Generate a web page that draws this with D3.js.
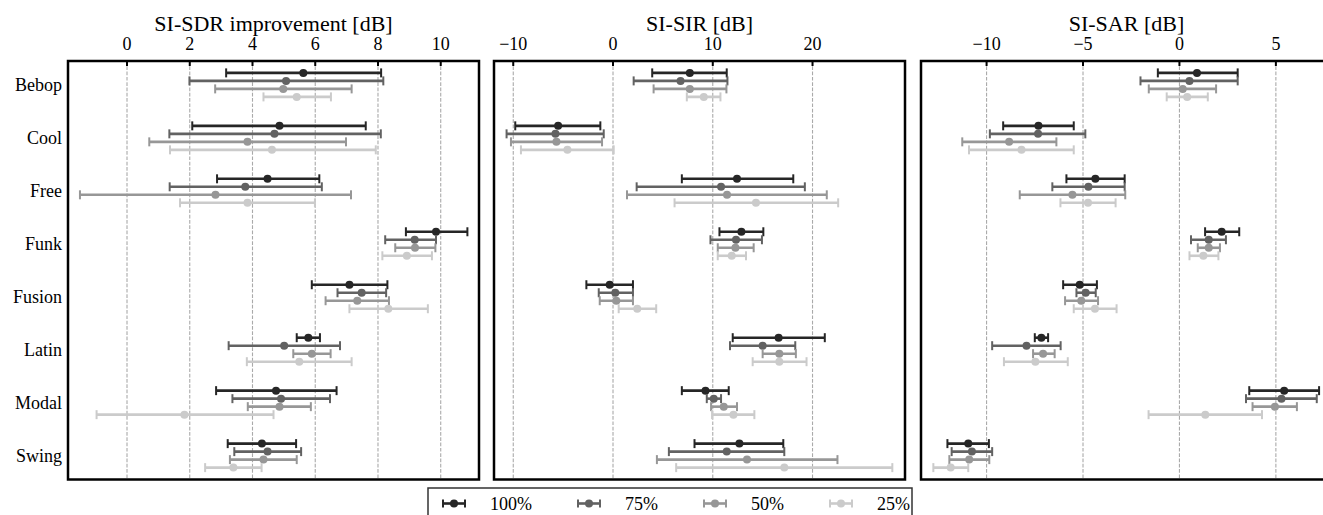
<!DOCTYPE html>
<html>
<head>
<meta charset="utf-8">
<script src="https://cdn.jsdelivr.net/npm/d3@7"></script>
<style>
  body { margin: 0; background: #fff; }
  svg text { font-family: "Liberation Serif", "DejaVu Serif", "Times New Roman", serif; }
  .grid line { stroke: #aaa; stroke-width: 1.1; stroke-dasharray: 3.7,1.6; }
  .frame { fill: none; stroke: #000; stroke-width: 2.5; }
  .tick-mark { stroke: #000; stroke-width: 2; }
</style>
</head>
<body>
<div class="chart"></div>
<script>
var categories = ["Bebop", "Cool", "Free", "Funk", "Fusion", "Latin", "Modal", "Swing"];
var seriesLabels = ["100%", "75%", "50%", "25%"];

// [mean, low, high] per category
var sdr100 = [[5.62, 3.16, 8.10], [4.86, 2.08, 7.61], [4.48, 2.87, 6.13], [9.85, 8.89, 10.85], [7.09, 5.89, 8.30], [5.78, 5.41, 6.15], [4.75, 2.84, 6.68], [4.30, 3.21, 5.39]];
var sdr75  = [[5.07, 1.99, 8.17], [4.70, 1.35, 8.09], [3.77, 1.36, 6.21], [9.17, 8.23, 9.85], [7.48, 6.71, 8.26], [5.01, 3.24, 6.79], [4.91, 3.36, 6.47], [4.48, 3.42, 5.55]];
var sdr50  = [[4.98, 2.81, 7.16], [3.84, 0.71, 6.98], [2.82, -1.50, 7.14], [9.18, 8.55, 9.83], [7.34, 6.33, 8.35], [5.89, 5.30, 6.49], [4.86, 3.85, 5.86], [4.35, 3.28, 5.41]];
var sdr25  = [[5.41, 4.35, 6.50], [4.62, 1.37, 7.93], [3.84, 1.69, 5.99], [8.92, 8.14, 9.72], [8.33, 7.09, 9.59], [5.49, 3.82, 7.16], [1.83, -0.97, 4.67], [3.39, 2.49, 4.29]];

var sir100 = [[7.7, 3.93, 11.4], [-5.5, -9.8, -1.27], [12.43, 6.9, 18.07], [12.87, 10.67, 15.07], [-0.33, -2.67, 2.0], [16.6, 12.0, 21.23], [9.27, 6.9, 11.6], [12.67, 8.17, 17.07]];
var sir75  = [[6.77, 2.07, 11.47], [-5.77, -10.67, -0.93], [10.83, 2.37, 19.23], [12.33, 9.77, 14.93], [0.23, -1.43, 2.0], [15.0, 11.73, 18.27], [10.1, 9.4, 10.83], [11.4, 5.6, 17.17]];
var sir50  = [[7.7, 4.07, 11.37], [-5.67, -10.23, -1.1], [11.43, 1.4, 21.43], [12.27, 10.5, 14.1], [0.33, -1.33, 2.0], [16.67, 15.0, 18.33], [11.1, 9.83, 12.43], [13.43, 4.4, 22.5]];
var sir25  = [[9.1, 7.4, 10.77], [-4.57, -9.23, 0.07], [14.33, 6.17, 22.57], [11.9, 10.5, 13.33], [2.43, 0.57, 4.33], [16.67, 14.0, 19.4], [12.07, 9.93, 14.17], [17.17, 6.33, 28.0]];

var sar100 = [[0.91, -1.12, 3.02], [-7.31, -9.14, -5.48], [-4.36, -5.86, -2.84], [2.19, 1.33, 3.10], [-5.17, -6.03, -4.28], [-7.16, -7.50, -6.81], [5.43, 3.62, 7.24], [-10.95, -12.03, -9.88]];
var sar75  = [[0.52, -2.02, 3.02], [-7.33, -9.83, -4.88], [-4.72, -6.59, -2.84], [1.52, 0.60, 2.41], [-4.86, -5.34, -4.34], [-7.93, -9.71, -6.16], [5.29, 3.45, 7.12], [-10.76, -11.81, -9.71]];
var sar50  = [[0.17, -1.59, 1.90], [-8.83, -11.26, -6.38], [-5.55, -8.28, -2.81], [1.52, 0.95, 2.10], [-5.09, -5.93, -4.22], [-7.07, -7.59, -6.47], [4.95, 3.79, 6.09], [-10.90, -11.93, -9.86]];
var sar25  = [[0.40, -0.66, 1.47], [-8.19, -10.91, -5.48], [-4.74, -6.17, -3.31], [1.24, 0.52, 2.02], [-4.38, -5.48, -3.26], [-7.47, -9.10, -5.79], [1.34, -1.60, 4.28], [-11.86, -12.76, -10.95]];

var sdrTicks = [0, 2, 4, 6, 8, 10];
var sirTicks = [-10, 0, 10, 20];
var sarTicks = [-10, -5, 0, 5];

var ErrorbarChart = (function() {
  var colors = ["#262626", "#626262", "#979797", "#cbcbcb"];
  var offsets = [-12, -4, 4, 12];

  var panels = [
    { title: "SI-SDR improvement [dB]", left: 68, domain: [-1.881, 11.22], ticks: sdrTicks, series: [sdr100, sdr75, sdr50, sdr25] },
    { title: "SI-SIR [dB]", left: 494, domain: [-11.93, 29.27], ticks: sirTicks, series: [sir100, sir75, sir50, sir25] },
    { title: "SI-SAR [dB]", left: 921, domain: [-13.40, 7.91], ticks: sarTicks, series: [sar100, sar75, sar50, sar25] }
  ];

  var width = 1323, height = 515;
  var top = 61, panelW = 411, panelH = 418.5;
  var fontFamily = '"Liberation Serif", "DejaVu Serif", serif';

  function errorbar(sel, x, cap) {
    sel.append("line")
      .attr("x1", d => x(d[1])).attr("x2", d => x(d[2]))
      .attr("stroke-width", 2.6);
    sel.append("line")
      .attr("x1", d => x(d[1])).attr("x2", d => x(d[1]))
      .attr("y1", -cap).attr("y2", cap)
      .attr("stroke-width", 2);
    sel.append("line")
      .attr("x1", d => x(d[2])).attr("x2", d => x(d[2]))
      .attr("y1", -cap).attr("y2", cap)
      .attr("stroke-width", 2);
    sel.append("circle")
      .attr("cx", d => x(d[0]))
      .attr("r", 4)
      .attr("stroke", "none");
  }

  function drawChart() {
    var svg = d3.select(".chart").append("svg")
      .attr("width", width)
      .attr("height", height)
      .attr("font-family", fontFamily);

    var y = d3.scalePoint()
      .domain(categories)
      .range([0, panelH])
      .padding(0.451);

    panels.forEach(function(p, pi) {
      var x = d3.scaleLinear().domain(p.domain).range([0, panelW]);
      var g = svg.append("g").attr("transform", "translate(" + p.left + "," + top + ")");

      g.append("text")
        .attr("x", panelW / 2)
        .attr("y", -30)
        .attr("text-anchor", "middle")
        .style("font-size", "22px")
        .text(p.title);

      var grid = g.append("g").attr("class", "grid");
      grid.selectAll("line")
        .data(p.ticks)
        .enter().append("line")
          .attr("x1", d => x(d)).attr("x2", d => x(d))
          .attr("y1", 0).attr("y2", panelH);

      g.selectAll(".tick-mark")
        .data(p.ticks)
        .enter().append("line")
          .attr("class", "tick-mark")
          .attr("x1", d => x(d)).attr("x2", d => x(d))
          .attr("y1", 0).attr("y2", 5);

      g.selectAll(".tick-label")
        .data(p.ticks)
        .enter().append("text")
          .attr("class", "tick-label")
          .attr("x", d => x(d))
          .attr("y", -11)
          .attr("text-anchor", "middle")
          .style("font-size", "18px")
          .text(d3.format("d"));

      if (pi === 0) {
        g.selectAll(".cat-label")
          .data(categories)
          .enter().append("text")
            .attr("class", "cat-label")
            .attr("x", -6)
            .attr("y", d => y(d))
            .attr("dy", "0.35em")
            .attr("text-anchor", "end")
            .style("font-size", "18px")
            .text(d => d);
      }

      p.series.forEach(function(values, si) {
        var s = g.append("g")
          .attr("stroke", colors[si])
          .attr("fill", colors[si]);

        var bar = s.selectAll("g")
          .data(values)
          .enter().append("g")
            .attr("transform", (d, i) => "translate(0," + (y(categories[i]) + offsets[si]) + ")");

        errorbar(bar, x, 4.5);
      });

      g.append("rect")
        .attr("class", "frame")
        .attr("width", panelW)
        .attr("height", panelH);
    });

    drawLegend(svg);
  }

  function drawLegend(svg) {
    var lg = svg.append("g").attr("transform", "translate(428,488)");
    var box = lg.append("rect")
      .attr("fill", "#fff")
      .attr("stroke", "#333")
      .attr("stroke-width", 1.5)
      .attr("height", 50);

    var handleX = d3.scaleLinear().domain([0, 2]).range([0, 22]);
    var cx = 15, cy = 15.5;
    seriesLabels.forEach(function(label, si) {
      var item = lg.append("g")
        .attr("transform", "translate(" + cx + "," + cy + ")")
        .attr("stroke", colors[si]).attr("fill", colors[si])
        .datum([1, 0, 2]);
      errorbar(item, handleX, 4);
      var t = lg.append("text")
        .attr("x", cx + 47)
        .attr("y", cy + 6)
        .style("font-size", "18px")
        .text(label);
      cx = cx + 47 + t.node().getComputedTextLength() + 46;
    });
    box.attr("width", 484);
  }

  return {
    draw: function() {
      return drawChart();
    }
  };
})();

ErrorbarChart.draw();
</script>
</body>
</html>
